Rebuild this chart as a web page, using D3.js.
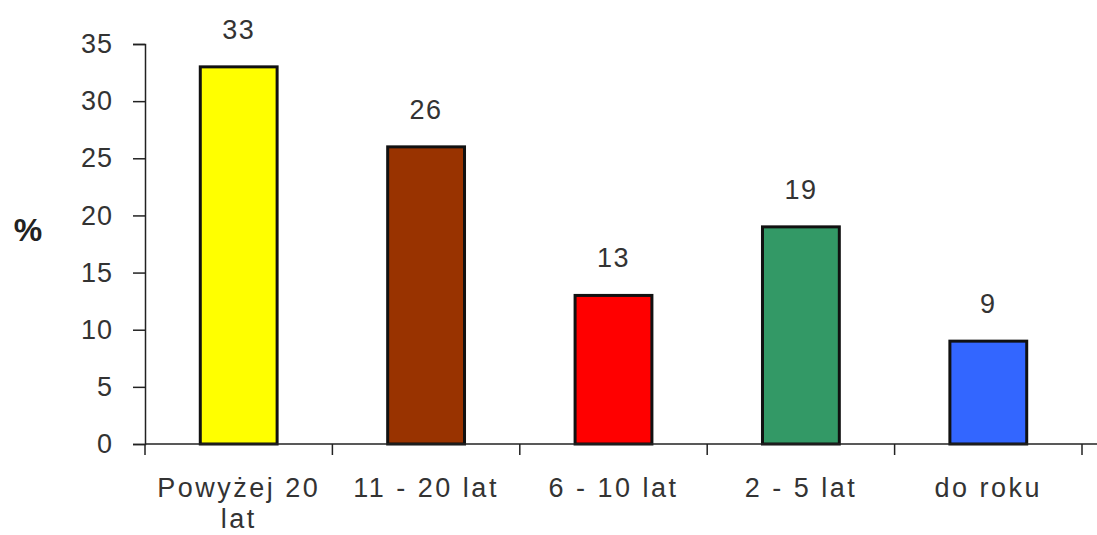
<!DOCTYPE html>
<html>
<head>
	<meta charset="utf-8" />
	<script src="https://d3js.org/d3.v7.min.js"></script>
	<style>
		body { margin: 0; background: #fff; }
		text { font-family: "Liberation Sans", Arial, sans-serif; }
	</style>
</head>
<body>
	<div id="chart"></div>
	<script>
		// dane z wykresu
		var categories = ["Powyżej 20 lat", "11 - 20 lat", "6 - 10 lat", "2 - 5 lat", "do roku"];
		var values = [33, 26, 13, 19, 9];
		var colors = ["#ffff00", "#993300", "#ff0000", "#339966", "#3366ff"];
		var yTicks = [0, 5, 10, 15, 20, 25, 30, 35];

		var width = 1097, height = 535;
		var x0 = 145, x1 = 1082, yTop = 44, yBottom = 444;

		var svg = d3.select("#chart").append("svg")
			.attr("width", width)
			.attr("height", height);

		var x = d3.scaleBand()
			.domain(categories)
			.range([x0, x1])
			.paddingInner(0.59)
			.paddingOuter(0.295);

		var y = d3.scaleLinear()
			.domain([0, 35])
			.range([yBottom, yTop]);

		// oś Y
		var yAxis = svg.append("g")
			.attr("transform", "translate(" + x0 + ",0)")
			.call(d3.axisLeft(y).tickValues(yTicks).tickSize(12).tickPadding(20));
		yAxis.select(".domain").attr("stroke", "#222").attr("stroke-width", 1.5);
		yAxis.selectAll(".tick line").attr("stroke", "#222").attr("stroke-width", 1.5);
		yAxis.selectAll(".tick text")
			.attr("fill", "#333")
			.style("font-size", "27px")
			.style("letter-spacing", "1px");

		// słupki
		svg.selectAll(".bar")
			.data(values)
			.enter().append("rect")
			.attr("class", "bar")
			.attr("x", function (d, i) { return x(categories[i]); })
			.attr("y", function (d) { return y(d); })
			.attr("width", x.bandwidth())
			.attr("height", function (d) { return y(0) - y(d); })
			.attr("fill", function (d, i) { return colors[i]; })
			.attr("stroke", "#111")
			.attr("stroke-width", 3);

		// etykiety wartości
		svg.selectAll(".val")
			.data(values)
			.enter().append("text")
			.attr("class", "val")
			.attr("x", function (d, i) { return x(categories[i]) + x.bandwidth() / 2; })
			.attr("y", function (d) { return y(d) - 28; })
			.attr("text-anchor", "middle")
			.attr("fill", "#333")
			.style("font-size", "27px")
			.style("letter-spacing", "1.5px")
			.text(function (d) { return d; });

		// oś X
		svg.append("line")
			.attr("x1", x0).attr("x2", width)
			.attr("y1", yBottom).attr("y2", yBottom)
			.attr("stroke", "#222").attr("stroke-width", 1.5);

		var step = x.step();
		var tickXs = d3.range(categories.length + 1).map(function (i) { return x0 + i * step; });
		svg.selectAll(".xtick")
			.data(tickXs)
			.enter().append("line")
			.attr("x1", function (d) { return d; })
			.attr("x2", function (d) { return d; })
			.attr("y1", yBottom)
			.attr("y2", yBottom + 11)
			.attr("stroke", "#222").attr("stroke-width", 1.5);

		// etykiety kategorii (zawijane)
		var lines = [["Powyżej 20", "lat"], ["11 - 20 lat"], ["6 - 10 lat"], ["2 - 5 lat"], ["do roku"]];
		var labels = svg.selectAll(".cat")
			.data(categories)
			.enter().append("text")
			.attr("class", "cat")
			.attr("text-anchor", "middle")
			.attr("fill", "#333")
			.style("font-size", "27px")
			.style("letter-spacing", "2.5px")
			.attr("transform", function (d) { return "translate(" + (x(d) + x.bandwidth() / 2) + "," + 497 + ")"; });
		labels.each(function (d, i) {
			var t = d3.select(this);
			lines[i].forEach(function (l, j) {
				t.append("tspan").attr("x", 0).attr("dy", j === 0 ? 0 : 31).text(l);
			});
		});

		// tytuł osi Y
		svg.append("text")
			.attr("x", 28)
			.attr("y", 241)
			.attr("text-anchor", "middle")
			.attr("fill", "#222")
			.style("font-size", "32px")
			.style("font-weight", "bold")
			.text("%");
	</script>
</body>
</html>
